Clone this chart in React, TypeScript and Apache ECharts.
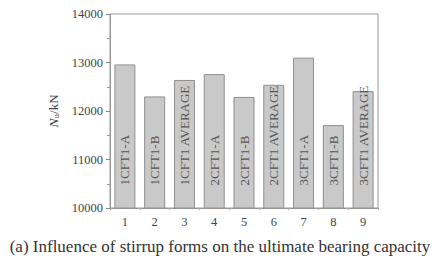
import React, { useEffect, useRef } from "react";
import * as echarts from "echarts";

const categories = ["1", "2", "3", "4", "5", "6", "7", "8", "9"];
const barNames = [
  "1CFT1-A", "1CFT1-B", "1CFT1 AVERAGE",
  "2CFT1-A", "2CFT1-B", "2CFT1 AVERAGE",
  "3CFT1-A", "3CFT1-B", "3CFT1 AVERAGE",
];
const values = [12960, 12300, 12640, 12760, 12290, 12540, 13100, 11710, 12410];
const yTicks = { min: 10000, max: 14000, interval: 1000 };
const title = "(a) Influence of stirrup forms on the ultimate bearing capacity";

const FONT = "Liberation Serif, Times New Roman, serif";

export default function App() {
  const ref = useRef<HTMLDivElement>(null);
  useEffect(() => {
    if (!ref.current) return;
    const chart = echarts.init(ref.current, undefined, { renderer: "svg" });
    chart.setOption({
      animation: false,
      backgroundColor: "#fff",
      textStyle: { fontFamily: FONT },
      title: {
        text: title,
        left: "center",
        top: 233,
        textStyle: { fontFamily: FONT, fontSize: 17, fontWeight: "normal", color: "#333" },
      },
      grid: {
        left: 110, right: 62, top: 14, bottom: 50,
        show: true, borderColor: "#999", borderWidth: 1,
      },
      xAxis: [
        {
          type: "category",
          data: categories,
          axisLine: { lineStyle: { color: "#999" } },
          axisTick: { alignWithLabel: true, length: 4, lineStyle: { color: "#888" } },
          axisLabel: { fontFamily: FONT, fontSize: 12.5, color: "#444", margin: 7 },
        },
        {
          type: "category",
          data: categories,
          position: "bottom",
          axisLine: { show: false },
          axisTick: { show: true, length: 2, lineStyle: { color: "#aaa" } },
          axisLabel: { show: false },
        },
      ],
      yAxis: {
        type: "value",
        min: yTicks.min,
        max: yTicks.max,
        interval: yTicks.interval,
        name: "{i|N}{s|u}/kN",
        nameLocation: "middle",
        nameGap: 35,
        nameRotate: 90,
        nameTextStyle: {
          fontFamily: FONT, fontSize: 13, color: "#444",
          rich: {
            i: { fontFamily: FONT, fontSize: 13.5, fontStyle: "italic", color: "#444" },
            s: { fontFamily: FONT, fontSize: 9, color: "#444", verticalAlign: "bottom", padding: [6, 0, 0, 0] },
          },
        },
        axisLine: { show: true, lineStyle: { color: "#999" } },
        axisTick: { show: true, length: 4, lineStyle: { color: "#888" } },
        minorTick: { show: true, splitNumber: 2, length: 3, lineStyle: { color: "#999" } },
        splitLine: { show: false },
        axisLabel: {
          fontFamily: FONT, fontSize: 12.5, color: "#444", margin: 7,
          formatter: (v: number) => String(v),
        },
      },
      series: [
        {
          type: "bar",
          data: values.map((v, i) => ({ value: v, name: barNames[i] })),
          barWidth: 21,
          itemStyle: { color: "#c9c9c9", borderColor: "#8f8f8f", borderWidth: 1 },
          label: {
            show: true,
            formatter: (p: any) => barNames[p.dataIndex],
            position: "insideBottom",
            rotate: 90,
            align: "left",
            verticalAlign: "middle",
            distance: 23,
            fontFamily: FONT,
            fontSize: 13,
            color: "#555",
          },
        },
      ],
    });
    return () => chart.dispose();
  }, []);
  return (
    <div
      ref={ref}
      style={{ position: "fixed", left: 0, top: 0, width: 440, height: 258 }}
    />
  );
}
